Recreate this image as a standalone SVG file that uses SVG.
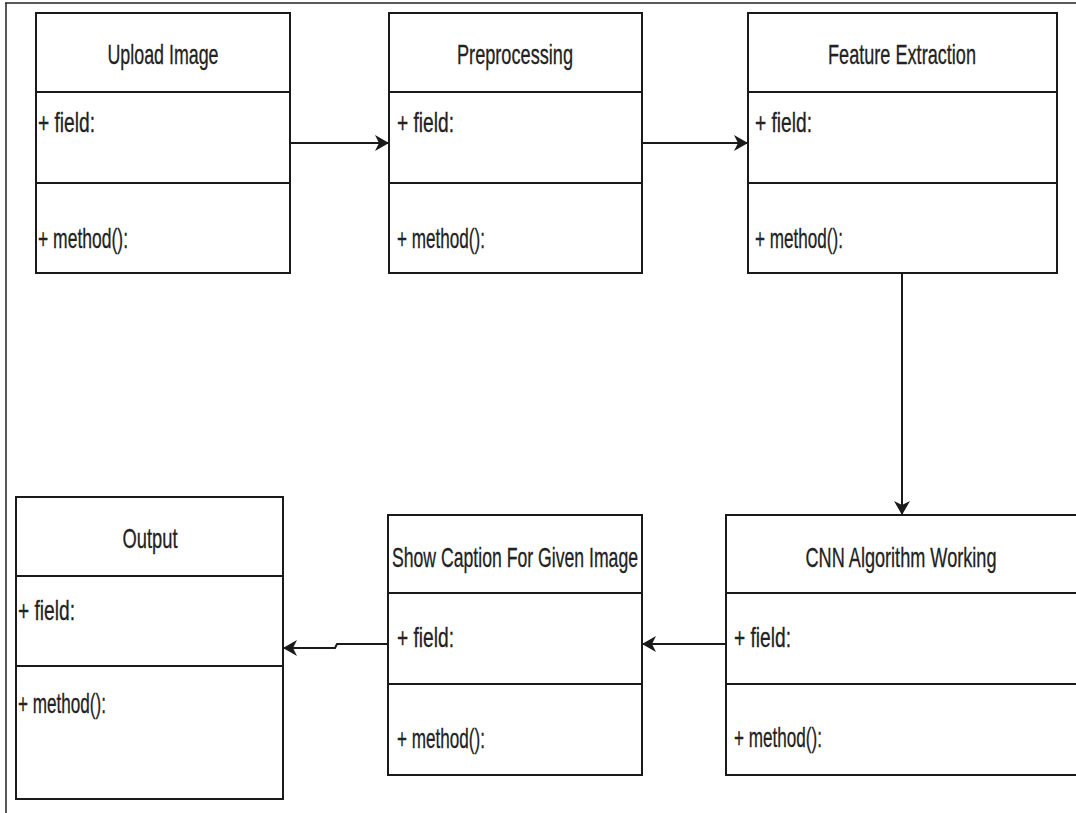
<svg xmlns="http://www.w3.org/2000/svg" width="1076" height="813" viewBox="0 0 1076 813">
<defs>
<style>
.box{fill:#fff;stroke:#1a1a1a;stroke-width:2}
.div{stroke:#1a1a1a;stroke-width:2}
.t{font-family:"Liberation Sans",Arial,sans-serif;font-size:28px;fill:#222;stroke:#222;stroke-width:0.3}
.c{text-anchor:middle}
.edge{fill:none;stroke:#1a1a1a;stroke-width:2}
</style>
<marker id="arr" viewBox="0 0 14 16" refX="13" refY="8" markerWidth="14" markerHeight="16" markerUnits="userSpaceOnUse" orient="auto">
<path d="M0,0 L14,8 L0,16 L4,8 Z" fill="#1a1a1a"/>
</marker>
</defs>
<rect width="1076" height="813" fill="#fff"/>
<g id="frame">
<line x1="5" y1="3" x2="1076" y2="3" stroke="#222" stroke-width="1.5"/>
<line x1="6" y1="3" x2="6" y2="813" stroke="#222" stroke-width="1.5"/>
</g>
<g id="upload">
<rect class="box" x="36" y="13" width="254" height="260"/>
<line class="div" x1="36" y1="92" x2="290" y2="92"/>
<line class="div" x1="36" y1="183" x2="290" y2="183"/>
<text class="t c" x="163" y="64" textLength="111" lengthAdjust="spacingAndGlyphs">Upload Image</text>
<text class="t" x="38" y="132" textLength="57" lengthAdjust="spacingAndGlyphs">+ field:</text>
<text class="t" x="38" y="248" textLength="90" lengthAdjust="spacingAndGlyphs">+ method():</text>
</g>
<g id="preprocessing">
<rect class="box" x="389" y="13" width="253" height="260"/>
<line class="div" x1="389" y1="92" x2="642" y2="92"/>
<line class="div" x1="389" y1="183" x2="642" y2="183"/>
<text class="t c" x="515" y="64" textLength="116" lengthAdjust="spacingAndGlyphs">Preprocessing</text>
<text class="t" x="397" y="132" textLength="57" lengthAdjust="spacingAndGlyphs">+ field:</text>
<text class="t" x="397" y="248" textLength="88" lengthAdjust="spacingAndGlyphs">+ method():</text>
</g>
<g id="feature">
<rect class="box" x="748" y="13" width="309" height="260"/>
<line class="div" x1="748" y1="92" x2="1057" y2="92"/>
<line class="div" x1="748" y1="183" x2="1057" y2="183"/>
<text class="t c" x="902" y="64" textLength="148" lengthAdjust="spacingAndGlyphs">Feature Extraction</text>
<text class="t" x="755" y="132" textLength="57" lengthAdjust="spacingAndGlyphs">+ field:</text>
<text class="t" x="755" y="248" textLength="88" lengthAdjust="spacingAndGlyphs">+ method():</text>
</g>
<g id="output">
<rect class="box" x="16" y="497" width="267" height="302"/>
<line class="div" x1="16" y1="576" x2="283" y2="576"/>
<line class="div" x1="16" y1="666" x2="283" y2="666"/>
<text class="t c" x="150" y="548" textLength="55" lengthAdjust="spacingAndGlyphs">Output</text>
<text class="t" x="18" y="620" textLength="57" lengthAdjust="spacingAndGlyphs">+ field:</text>
<text class="t" x="18" y="713" textLength="88" lengthAdjust="spacingAndGlyphs">+ method():</text>
</g>
<g id="caption">
<rect class="box" x="388" y="515" width="254" height="260"/>
<line class="div" x1="388" y1="593" x2="642" y2="593"/>
<line class="div" x1="388" y1="684" x2="642" y2="684"/>
<text class="t c" x="515" y="567" textLength="246" lengthAdjust="spacingAndGlyphs">Show Caption For Given Image</text>
<text class="t" x="397" y="647" textLength="57" lengthAdjust="spacingAndGlyphs">+ field:</text>
<text class="t" x="397" y="748" textLength="88" lengthAdjust="spacingAndGlyphs">+ method():</text>
</g>
<g id="cnn">
<path class="box" d="M1077,515 L726,515 L726,775 L1077,775"/>
<line class="div" x1="726" y1="593" x2="1076" y2="593"/>
<line class="div" x1="726" y1="684" x2="1076" y2="684"/>
<text class="t c" x="901" y="567" textLength="191" lengthAdjust="spacingAndGlyphs">CNN Algorithm Working</text>
<text class="t" x="734" y="647" textLength="57" lengthAdjust="spacingAndGlyphs">+ field:</text>
<text class="t" x="734" y="747" textLength="88" lengthAdjust="spacingAndGlyphs">+ method():</text>
</g>
<g id="connectors">
<path class="edge" d="M290,143 L388,143" marker-end="url(#arr)"/>
<path class="edge" d="M642,143 L747,143" marker-end="url(#arr)"/>
<path class="edge" d="M902,273 L902,514" marker-end="url(#arr)"/>
<path class="edge" d="M726,644 L643,644" marker-end="url(#arr)"/>
<path class="edge" d="M388,644 L337,644 L335,648 L284,648" marker-end="url(#arr)"/>
</g>
</svg>
